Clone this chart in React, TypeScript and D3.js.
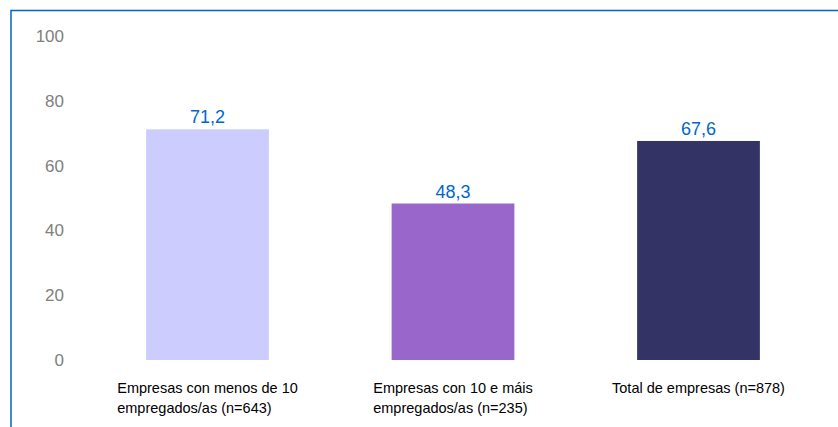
import React, { useEffect, useRef } from 'react'
import * as d3 from 'd3'

const categories = ['c1', 'c2', 'c3']
const labelLines = [
  ['Empresas con menos de 10', 'empregados/as (n=643)'],
  ['Empresas con 10 e máis', 'empregados/as (n=235)'],
  ['Total de empresas (n=878)'],
]
const values = [71.2, 48.3, 67.6]
const valueLabels = ['71,2', '48,3', '67,6']
const colors = ['#ccccff', '#9966cc', '#333366']
const yTicks = [0, 20, 40, 60, 80, 100]

const W = 838
const H = 427
const FONT = '"Liberation Sans", Arial, sans-serif'

export default function App() {
  const svgRef = useRef<SVGSVGElement>(null)

  useEffect(() => {
    if (!svgRef.current) return
    const svg = d3.select(svgRef.current)
    svg.selectAll('*').remove()

    const x = d3.scaleBand().domain(categories).range([84.75, 821.25])
      .paddingInner(0.5).paddingOuter(0.25)
    const y = d3.scaleLinear().domain([0, 100]).range([360, 36])

    // frame (top and left edges only)
    svg.append('path')
      .attr('d', `M11,${H} V10.5 H${W}`)
      .attr('fill', 'none')
      .attr('stroke', '#0066cc')
      .attr('stroke-width', 1.5)

    // y tick labels
    svg.append('g')
      .selectAll('text')
      .data(yTicks)
      .join('text')
      .attr('x', 64)
      .attr('y', d => y(d) + 6)
      .attr('text-anchor', 'end')
      .attr('font-family', FONT)
      .attr('font-size', 17)
      .attr('fill', '#808080')
      .text(d => d)

    // bars
    svg.append('g')
      .selectAll('rect')
      .data(values)
      .join('rect')
      .attr('x', (_, i) => x(categories[i])!)
      .attr('y', d => y(d))
      .attr('width', x.bandwidth())
      .attr('height', d => y(0) - y(d))
      .attr('fill', (_, i) => colors[i])

    // value labels
    svg.append('g')
      .selectAll('text')
      .data(values)
      .join('text')
      .attr('x', (_, i) => x(categories[i])! + x.bandwidth() / 2)
      .attr('y', d => y(d) - 6)
      .attr('text-anchor', 'middle')
      .attr('font-family', FONT)
      .attr('font-size', 18)
      .attr('fill', '#0066cc')
      .text((_, i) => valueLabels[i])

    // category labels: lines left-aligned, block centred under the bar
    labelLines.forEach((lines, i) => {
      const cx = x(categories[i])! + x.bandwidth() / 2
      const t = svg.append('text')
        .attr('font-family', FONT)
        .attr('font-size', 14.5)
        .attr('fill', '#000')
      lines.forEach((line, j) => {
        t.append('tspan').attr('x', 0).attr('y', 393 + j * 20).text(line)
      })
      const bw = (t.node() as SVGTextElement).getBBox().width
      t.attr('transform', `translate(${cx - bw / 2},0)`)
    })
  }, [])

  return (
    <svg ref={svgRef} width={W} height={H}
      style={{ position: 'absolute', left: 0, top: 0, background: '#fff' }} />
  )
}
